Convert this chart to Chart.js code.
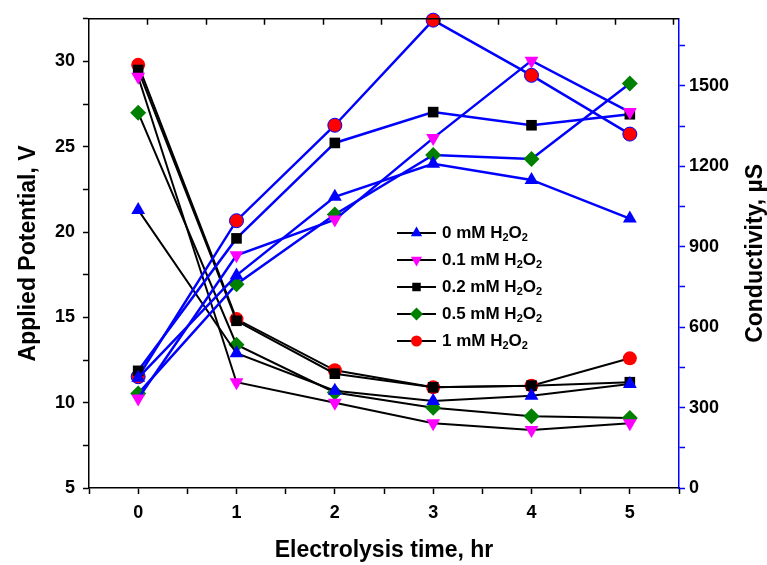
<!DOCTYPE html>
<html lang="en">
<head>
<meta charset="UTF-8">
<title>Applied potential and conductivity vs electrolysis time</title>
<script src="https://cdn.jsdelivr.net/npm/chart.js"></script>
<style>
  html, body { margin: 0; padding: 0; background: #fff; }
  #wrap { width: 767px; height: 565px; }
</style>
</head>
<body>
<div id="wrap"><canvas id="chart" width="767" height="565"></canvas></div>
<script>
// time axis, hr
const hours = [0, 1, 2, 3, 4, 5];
const seriesNames = ['0 mM', '0.1 mM', '0.2 mM', '0.5 mM', '1 mM'];

// applied potential, V (left axis)
const pot0   = [21.3, 12.9, 10.7, 10.1, 10.4, 11.1];
const pot01  = [29.1, 11.2, 10.0, 8.8, 8.4, 8.8];
const pot02  = [29.5, 14.8, 11.7, 10.9, 11.0, 11.2];
const pot05  = [27.0, 13.4, 10.6, 9.7, 9.2, 9.1];
const pot1   = [29.8, 14.9, 11.9, 10.9, 11.0, 12.6];

// conductivity, µS (right axis)
const cond0  = [411, 793, 1086, 1209, 1149, 1005];
const cond01 = [334, 868, 1001, 1305, 1594, 1402];
const cond02 = [437, 931, 1287, 1402, 1353, 1394];
const cond05 = [352, 760, 1020, 1242, 1227, 1509];
const cond1  = [415, 997, 1353, 1745, 1539, 1320];

const potSeries = [pot0, pot01, pot02, pot05, pot1];
const condSeries = [cond0, cond01, cond02, cond05, cond1];

const markerColors = ['#0000ff', '#ff00ff', '#000000', '#008000', '#ff0000'];
const markerStyles = ['triangle', 'triangle', 'rect', 'rectRot', 'circle'];
const markerRotation = [0, 180, 0, 0, 0];
const markerRadius = [8, 8, 7.5, 8, 7];

const fontFamily = '"Liberation Sans", Arial, sans-serif';

const toPoints = arr => arr.map((v, i) => ({ x: hours[i], y: v }));

const datasets = [];
potSeries.forEach((s, i) => {
  datasets.push({
    label: seriesNames[i] + ' H2O2 (V)',
    data: toPoints(s),
    yAxisID: 'y',
    borderColor: '#000',
    borderWidth: 2,
    pointStyle: markerStyles[i],
    rotation: markerRotation[i],
    pointRadius: markerRadius[i],
    pointBackgroundColor: markerColors[i],
    pointBorderColor: markerColors[i],
    pointBorderWidth: 0,
    order: 2,
    clip: false
  });
});
condSeries.forEach((s, i) => {
  datasets.push({
    label: seriesNames[i] + ' H2O2 (µS)',
    data: toPoints(s),
    yAxisID: 'y2',
    borderColor: '#0000ff',
    borderWidth: 2.5,
    pointStyle: markerStyles[i],
    rotation: markerRotation[i],
    pointRadius: markerRadius[i],
    pointBackgroundColor: markerColors[i],
    pointBorderColor: i === 4 ? '#0000ff' : markerColors[i],
    pointBorderWidth: i === 4 ? 1 : 0,
    order: 1,
    clip: false
  });
});

// top frame line with inward ticks, plus right axis title reading bottom-to-top
const framePlugin = {
  id: 'frame',
  afterDraw(chart) {
    const { ctx, chartArea: a } = chart;
    ctx.save();
    ctx.strokeStyle = '#000';
    ctx.lineWidth = 1.5;
    ctx.beginPath();
    ctx.moveTo(a.left, a.top);
    ctx.lineTo(a.right, a.top);
    const step = (a.right - a.left) / 10.1;
    for (let k = 1; k <= 10; k++) {
      const x = Math.round(a.left + k * step) + 0.5;
      ctx.moveTo(x, a.top);
      ctx.lineTo(x, a.top + 6);
    }
    ctx.stroke();

    ctx.translate(chart.width - 11, (a.top + a.bottom) / 2);
    ctx.rotate(-Math.PI / 2);
    ctx.fillStyle = '#000';
    ctx.font = 'bold 23px ' + fontFamily;
    ctx.textAlign = 'center';
    ctx.textBaseline = 'middle';
    ctx.fillText('Conductivity, µS', 0, 0);
    ctx.restore();
  }
};

// legend with line + marker and subscripted H2O2
const legendPlugin = {
  id: 'customLegend',
  afterDraw(chart) {
    const ctx = chart.ctx;
    const x0 = 397, x1 = 436, tx = 442;
    let y = 233;
    ctx.save();
    seriesNames.forEach((name, i) => {
      ctx.strokeStyle = '#000';
      ctx.lineWidth = 2;
      ctx.beginPath();
      ctx.moveTo(x0, y);
      ctx.lineTo(x1, y);
      ctx.stroke();
      ctx.fillStyle = markerColors[i];
      ctx.strokeStyle = markerColors[i];
      Chart.helpers.drawPoint(ctx, {
        pointStyle: markerStyles[i],
        rotation: markerRotation[i],
        radius: markerRadius[i] - 1.5,
        borderWidth: 0
      }, (x0 + x1) / 2, y);
      ctx.fillStyle = '#000';
      ctx.textBaseline = 'middle';
      ctx.textAlign = 'left';
      let x = tx;
      const big = 'bold 17px ' + fontFamily;
      const small = 'bold 11px ' + fontFamily;
      [[name + ' H', big, 0], ['2', small, 5], ['O', big, 0], ['2', small, 5]].forEach(([t, f, dy]) => {
        ctx.font = f;
        ctx.fillText(t, x, y + dy);
        x += ctx.measureText(t).width;
      });
      y += 27;
    });
    ctx.restore();
  }
};

const tickFont = { family: fontFamily, size: 18, weight: 'bold' };
const titleFont = { family: fontFamily, size: 23, weight: 'bold', lineHeight: 1 };

new Chart(document.getElementById('chart'), {
  type: 'line',
  data: { datasets },
  options: {
    responsive: false,
    animation: false,
    layout: { padding: { top: 16, left: 0, right: 0, bottom: 0 } },
    plugins: { legend: { display: false }, tooltip: { enabled: false } },
    scales: {
      x: {
        type: 'linear',
        position: 'bottom',
        min: -0.5,
        max: 5.5,
        ticks: {
          stepSize: 0.5,
          autoSkip: false,
          maxRotation: 0,
          padding: 8,
          color: '#000',
          font: tickFont,
          callback: v => Number.isInteger(v) ? v : ''
        },
        grid: { drawOnChartArea: false, tickLength: 6, tickColor: '#000', tickWidth: 1.5 },
        border: { color: '#000', width: 1.5 },
        title: { display: true, text: 'Electrolysis time, hr', color: '#000', font: titleFont, padding: { bottom: 3 } },
        afterFit: s => { s.height = 77; }
      },
      y: {
        position: 'left',
        min: 5,
        max: 32.5,
        ticks: {
          stepSize: 2.5,
          autoSkip: false,
          padding: 8,
          color: '#000',
          font: tickFont,
          callback: v => v % 5 === 0 ? v : ''
        },
        grid: { drawOnChartArea: false, tickLength: 6, tickColor: '#000', tickWidth: 1.5 },
        border: { color: '#000', width: 1.5 },
        title: { display: true, text: 'Applied Potential, V', color: '#000', font: titleFont, padding: { top: 17 } },
        afterFit: s => { s.width = 89; }
      },
      y2: {
        position: 'right',
        min: 0,
        max: 1750,
        ticks: {
          stepSize: 150,
          includeBounds: false,
          autoSkip: false,
          padding: 4,
          color: '#000',
          font: tickFont,
          callback: v => v % 300 === 0 ? v : ''
        },
        grid: { drawOnChartArea: false, tickLength: 6, tickColor: '#0000ff', tickWidth: 1.5 },
        border: { color: '#0000ff', width: 1.5 },
        title: { display: false },
        afterFit: s => { s.width = 88; }
      }
    }
  },
  plugins: [framePlugin, legendPlugin]
});
</script>
</body>
</html>
